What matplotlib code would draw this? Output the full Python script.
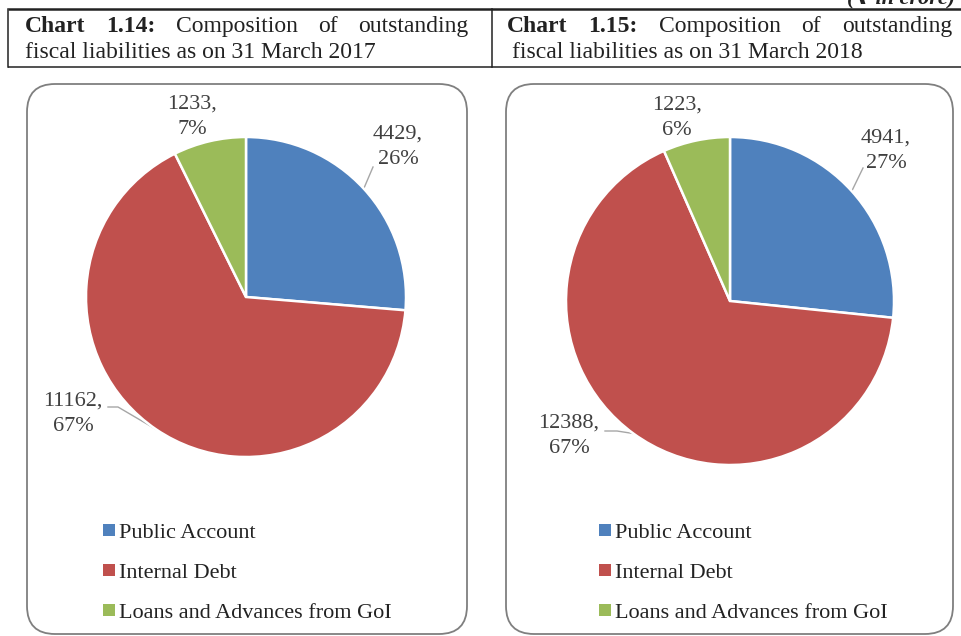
import numpy as np
import matplotlib.pyplot as plt
from matplotlib.patches import FancyBboxPatch, Rectangle

plt.rcParams['font.family'] = ['Liberation Serif', 'DejaVu Serif']

# data
categories = ['Public Account', 'Internal Debt', 'Loans and Advances from GoI']
values_2017 = [4429, 11162, 1233]
pct_2017 = [26, 67, 7]
values_2018 = [4941, 12388, 1223]
pct_2018 = [27, 67, 6]
colors = ['#4F81BD', '#C0504D', '#9BBB59']

W, H = 962, 636
fig = plt.figure(figsize=(W / 100, H / 100), dpi=100)
bg = fig.add_axes([0, 0, 1, 1])
bg.set_xlim(0, W)
bg.set_ylim(H, 0)
bg.axis('off')
renderer = fig.canvas.get_renderer()
txt_col = '#404040'


def justify(words, bold, x0, x1, y):
    texts = [bg.text(0, y, w, fontsize=17, fontweight='bold' if b else 'normal',
                     va='baseline', ha='left', color='#222222')
             for w, b in zip(words, bold)]
    widths = [t.get_window_extent(renderer).width for t in texts]
    gap = (x1 - x0 - sum(widths)) / (len(words) - 1)
    x = x0
    for t, w in zip(texts, widths):
        t.set_x(x)
        x += w + gap


# header table
bg.plot([8, W], [9, 9], color='#222222', lw=1.8, solid_capstyle='butt')
bg.plot([8, W], [67, 67], color='#222222', lw=1.1, solid_capstyle='butt')
bg.plot([8, 8], [9, 67], color='#222222', lw=1.1)
bg.plot([492, 492], [9, 67], color='#222222', lw=1.1)
bg.text(955, 3, '(₹ in crore)', fontsize=16, fontweight='bold', style='italic',
        ha='right', va='baseline', color='#222222',
        family=['Liberation Serif', 'DejaVu Sans'])

justify(['Chart', '1.14:', 'Composition', 'of', 'outstanding'],
        [True, True, False, False, False], 25, 468, 32)
bg.text(25, 58, 'fiscal liabilities as on 31 March 2017', fontsize=17,
        va='baseline', color='#222222')
justify(['Chart', '1.15:', 'Composition', 'of', 'outstanding'],
        [True, True, False, False, False], 507, 952, 32)
bg.text(512, 58, 'fiscal liabilities as on 31 March 2018', fontsize=17,
        va='baseline', color='#222222')

panels = [
    dict(vals=values_2017, pct=pct_2017, box=(27, 84, 440, 550), c=(246, 297), r=160,
         lab=[(398, 147), (73, 414), (192, 117)],
         lead=[[(373, 167)], [(118, 407), (108, 407)], None],
         leg_x=103),
    dict(vals=values_2018, pct=pct_2018, box=(506, 84, 447, 550), c=(730, 301), r=164,
         lab=[(886, 151), (569, 436), (677, 118)],
         lead=[[(863, 168)], [(617, 431), (605, 431)], None],
         leg_x=599),
]

for p in panels:
    bx, by, bw, bh = p['box']
    bg.add_patch(FancyBboxPatch((bx, by), bw, bh, boxstyle='round,pad=0,rounding_size=28',
                                fc='white', ec='#7f7f7f', lw=1.3, zorder=0))
    cx, cy = p['c']
    r = p['r']
    ax = fig.add_axes([(cx - r) / W, 1 - (cy + r) / H, 2 * r / W, 2 * r / H])
    wedges, _ = ax.pie(p['vals'], colors=colors, startangle=90, counterclock=False,
                       wedgeprops=dict(edgecolor='white', linewidth=1.8))
    ax.set_xlim(-1, 1)
    ax.set_ylim(-1, 1)
    ax.axis('off')

    for wdg, v, pc, (lx, ly), lead in zip(wedges, p['vals'], p['pct'], p['lab'], p['lead']):
        bg.text(lx, ly, f'{v},\n{pc}%', fontsize=16, ha='center', va='center',
                color=txt_col, linespacing=1.45)
        if lead:
            mid = np.deg2rad((wdg.theta1 + wdg.theta2) / 2)
            pts = [(cx + r * np.cos(mid), cy - r * np.sin(mid))] + lead
            xs, ys = zip(*pts)
            bg.plot(xs, ys, color='#a6a6a6', lw=1.0)

    for i, (name, col) in enumerate(zip(categories, colors)):
        y = 530 + 40 * i
        bg.add_patch(Rectangle((p['leg_x'], y - 6), 12, 12, fc=col, ec='none'))
        bg.text(p['leg_x'] + 16, y + 1, name, fontsize=16, va='center_baseline',
                color='#222222')

fig.savefig('out.png', dpi=100)
